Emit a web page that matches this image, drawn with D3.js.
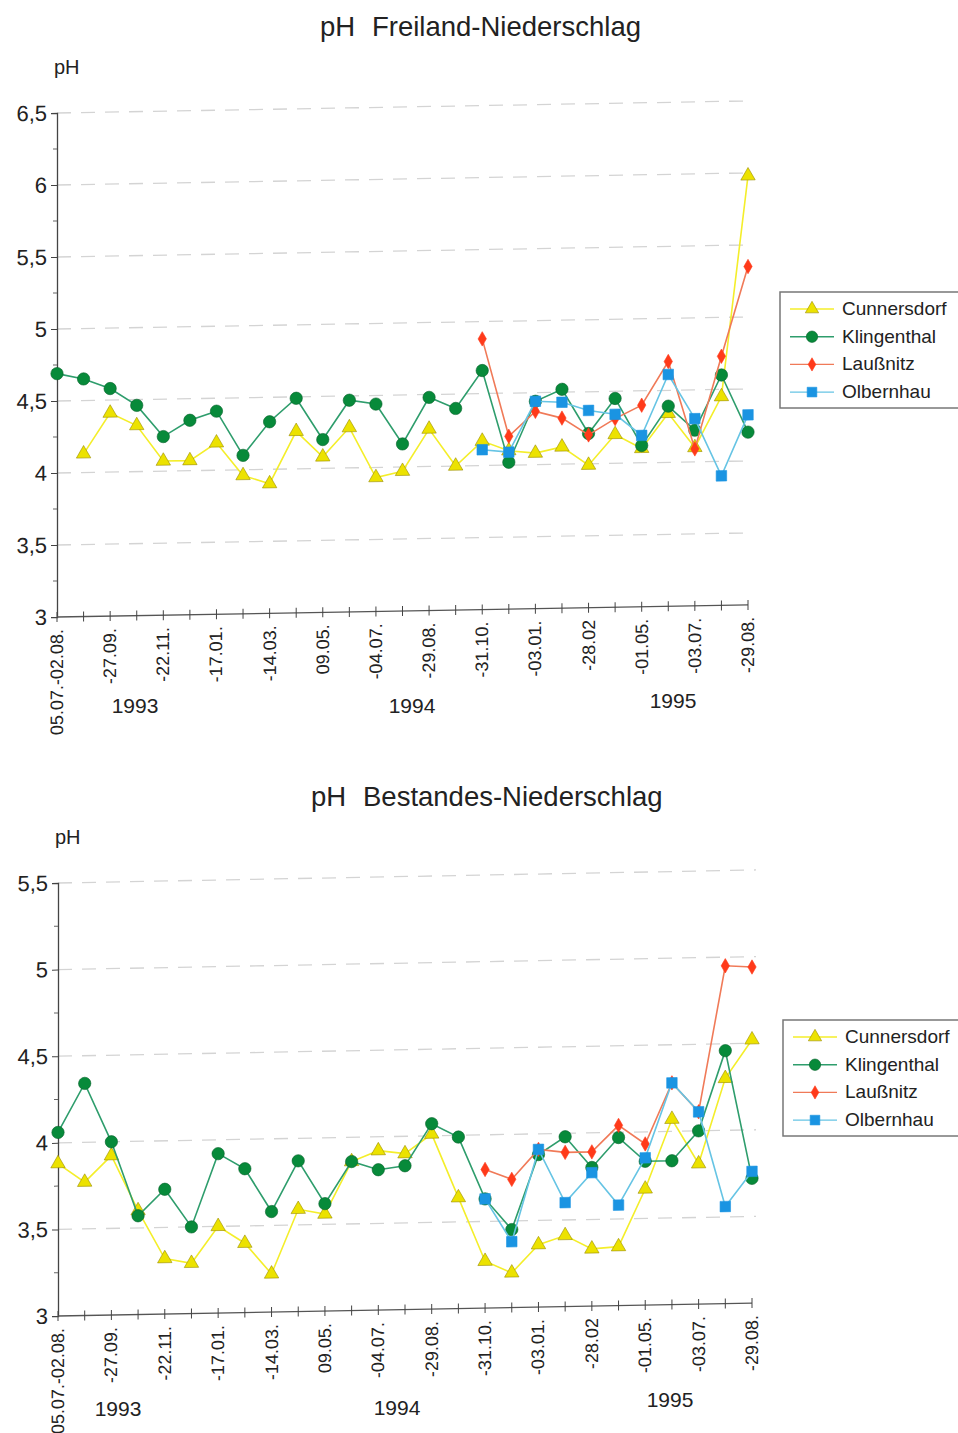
<!DOCTYPE html>
<html>
<head>
<meta charset="utf-8">
<script src="https://cdn.jsdelivr.net/npm/d3@7"></script>
<style>
  body { margin: 0; background: #fff; }
  svg { font-family: "Liberation Sans", Arial, sans-serif; }
</style>
</head>
<body>
<svg id="chart" width="958" height="1433"></svg>
<script>
// ---- data ----
var dateLabels = ["05.07.-02.08.", "", "-27.09.", "", "-22.11.", "", "-17.01.", "", "-14.03.", "",
                  "09.05.", "", "-04.07.", "", "-29.08.", "", "-31.10.", "", "-03.01.", "",
                  "-28.02", "", "-01.05.", "", "-03.07.", "", "-29.08."];
var years = ["1993", "1994", "1995"];
var stations = ["Cunnersdorf", "Klingenthal", "Laußnitz", "Olbernhau"];

var N = null;
var freiCunnersdorf = [N, 4.13, 4.41, 4.32, 4.07, 4.07, 4.19, 3.96, 3.90, 4.26, 4.08, 4.28, 3.93, 3.97,
                       4.26, 4.00, 4.17, 4.10, 4.08, 4.12, 3.99, 4.20, 4.10, 4.34, 4.10, 4.45, 5.98];
var freiKlingenthal = [4.69, 4.65, 4.58, 4.46, 4.24, 4.35, 4.41, 4.10, 4.33, 4.49, 4.20, 4.47, 4.44, 4.16,
                       4.48, 4.40, 4.66, 4.02, 4.44, 4.52, 4.21, 4.45, 4.12, 4.39, 4.22, 4.60, 4.20];
var freiLaussnitz   = [N, N, N, N, N, N, N, N, N, N, N, N, N, N, N, N,
                       4.88, 4.20, 4.37, 4.32, 4.20, 4.31, 4.40, 4.70, 4.09, 4.73, 5.35];
var freiOlbernhau   = [N, N, N, N, N, N, N, N, N, N, N, N, N, N, N, N,
                       4.11, 4.09, 4.44, 4.43, 4.37, 4.34, 4.19, 4.61, 4.30, 3.90, 4.32];

var bestCunnersdorf = [3.88, 3.77, 3.92, 3.60, 3.32, 3.29, 3.50, 3.40, 3.22, 3.59, 3.56, 3.86, 3.92, 3.90,
                       4.01, 3.64, 3.27, 3.20, 3.36, 3.41, 3.33, 3.34, 3.67, 4.07, 3.81, 4.30, 4.52];
var bestKlingenthal = [4.06, 4.34, 4.00, 3.57, 3.72, 3.50, 3.92, 3.83, 3.58, 3.87, 3.62, 3.86, 3.81, 3.83,
                       4.07, 3.99, 3.63, 3.45, 3.88, 3.98, 3.80, 3.97, 3.83, 3.83, 4.00, 4.46, 3.72];
var bestLaussnitz   = [N, N, N, N, N, N, N, N, N, N, N, N, N, N, N, N,
                       3.80, 3.74, 3.91, 3.89, 3.89, 4.04, 3.93, 4.28, 4.11, 4.95, 4.94];
var bestOlbernhau   = [N, N, N, N, N, N, N, N, N, N, N, N, N, N, N, N,
                       3.63, 3.38, 3.91, 3.60, 3.77, 3.58, 3.85, 4.28, 4.11, 3.56, 3.76];

// ---- styles per station ----
var styles = {
  "Cunnersdorf": {line: "#f4ee2a", fill: "#ece200", stroke: "#9a8c00", shape: d3.symbolTriangle, size: 90},
  "Klingenthal": {line: "#2e9d6c", fill: "#078a3a", stroke: "#05622a", shape: d3.symbolCircle, size: 120},
  "Laußnitz":    {line: "#f07a58", fill: "#ff3a1a", stroke: "#ff3a1a", shape: d3.symbolDiamond, size: 60},
  "Olbernhau":   {line: "#66c4e4", fill: "#1a94e2", stroke: "#1a94e2", shape: d3.symbolSquare, size: 110}
};

var svg = d3.select("#chart");

function drawPanel(cfg) {
	// one chart block: title, skewed plot (the scan is slightly sheared), legend

	svg.append("text")
		.attr("x", cfg.titleX).attr("y", cfg.titleY)
		.attr("font-size", 27.5).attr("fill", "#222")
		.text("pH");
	svg.append("text")
		.attr("x", cfg.titleX2).attr("y", cfg.titleY)
		.attr("font-size", 27.5).attr("fill", "#222")
		.text(cfg.title);

	svg.append("text")
		.attr("x", cfg.left - 3).attr("y", cfg.top - 39)
		.attr("font-size", 20).attr("fill", "#222")
		.text("pH");

	var w = cfg.right - cfg.left;
	var x = d3.scalePoint().domain(d3.range(dateLabels.length)).range([0, w]);
	var y = d3.scaleLinear().domain(cfg.yDomain).range([cfg.bottom, cfg.top]);

	var g = svg.append("g")
		.attr("transform", "translate(" + cfg.left + ",0) skewY(" + cfg.skew + ")");

	var major = d3.range(cfg.yDomain[0], cfg.yDomain[1] + 0.01, 0.5);
	var minor = d3.range(cfg.yDomain[0] + 0.25, cfg.yDomain[1], 0.5);

	// dashed grid
	g.selectAll(".grid").data(major.slice(1)).enter().append("line")
		.attr("x1", 0).attr("x2", w + 4)
		.attr("y1", function(d) {return y(d)}).attr("y2", function(d) {return y(d)})
		.attr("stroke", "#d4d4d4").attr("stroke-width", 1.3)
		.attr("stroke-dasharray", "14,10");

	// y axis
	var yAxis = d3.axisLeft(y).tickValues(major).tickSize(6).tickPadding(4)
		.tickFormat(function(d) {return String(d).replace(".", ",")});
	var ya = g.append("g").call(yAxis);
	ya.select(".domain").attr("stroke", "#444").attr("stroke-width", 1.3);
	ya.selectAll(".tick line").attr("stroke", "#444");
	ya.selectAll(".tick text").attr("font-size", 22).attr("fill", "#222")
		.attr("font-family", "Liberation Sans, Arial, sans-serif");
	g.selectAll(".minor").data(minor).enter().append("line")
		.attr("x1", -4).attr("x2", 0)
		.attr("y1", function(d) {return y(d)}).attr("y2", function(d) {return y(d)})
		.attr("stroke", "#666");

	// x axis with crossing ticks
	var xa = g.append("g").attr("transform", "translate(0," + cfg.bottom + ")");
	xa.append("line").attr("x1", 0).attr("x2", w).attr("stroke", "#555").attr("stroke-width", 1.3);
	xa.selectAll(".xt").data(d3.range(dateLabels.length)).enter().append("line")
		.attr("x1", function(d) {return x(d)}).attr("x2", function(d) {return x(d)})
		.attr("y1", -5).attr("y2", 5)
		.attr("stroke", "#444");
	xa.selectAll(".xl").data(dateLabels).enter().append("text")
		.attr("transform", function(d, i) {return "translate(" + (x(i) + 6) + ",12) rotate(-90)"})
		.attr("text-anchor", "end")
		.attr("font-size", 18).attr("fill", "#222")
		.text(function(d) {return d});

	// year labels sit below the sheared area, not on it
	svg.selectAll(".yr" + cfg.id).data(years).enter().append("text")
		.attr("x", function(d, i) {return cfg.yearX[i]})
		.attr("y", function(d, i) {return cfg.yearY[i]})
		.attr("text-anchor", "middle")
		.attr("font-size", 21).attr("fill", "#222")
		.text(function(d) {return d});

	// series
	cfg.data.forEach(function(vals, k) {
		var st = styles[stations[k]];
		var pts = vals.map(function(v, i) {return {i: i, v: v}});
		var line = d3.line()
			.defined(function(d) {return d.v != null})
			.x(function(d) {return x(d.i)})
			.y(function(d) {return y(d.v)});
		g.append("path").datum(pts)
			.attr("d", line)
			.attr("fill", "none").attr("stroke", st.line).attr("stroke-width", 1.6);
		g.selectAll(".m" + k).data(pts.filter(function(d) {return d.v != null})).enter()
			.append("path")
			.attr("transform", function(d) {return "translate(" + x(d.i) + "," + y(d.v) + ")"})
			.attr("d", d3.symbol().type(st.shape).size(st.size))
			.attr("fill", st.fill).attr("stroke", st.stroke).attr("stroke-width", 0.6);
	});

	// legend
	var lg = svg.append("g").attr("transform", "translate(" + cfg.legX + "," + cfg.legY + ")");
	lg.append("rect")
		.attr("x", 0).attr("y", 0).attr("width", 200).attr("height", 116)
		.attr("fill", "#fff").attr("stroke", "#777").attr("stroke-width", 1.5);
	stations.forEach(function(s, k) {
		var st = styles[s];
		var yy = 17 + k * 27.7;
		lg.append("line").attr("x1", 10).attr("x2", 54).attr("y1", yy).attr("y2", yy)
			.attr("stroke", st.line).attr("stroke-width", 1.4);
		lg.append("path")
			.attr("transform", "translate(32," + yy + ")")
			.attr("d", d3.symbol().type(st.shape).size(st.size * 0.85))
			.attr("fill", st.fill).attr("stroke", st.stroke).attr("stroke-width", 0.6);
		lg.append("text").attr("x", 62).attr("y", yy + 6)
			.attr("font-size", 19).attr("fill", "#222")
			.text(s);
	});
}

drawPanel({
	id: "a",
	title: "Freiland-Niederschlag", titleX: 320, titleX2: 372, titleY: 36,
	left: 57, right: 748, top: 113, bottom: 617,
	yDomain: [3, 6.5], skew: -1.0,
	yearX: [135, 412, 673], yearY: [713, 713, 708],
	legX: 780, legY: 292,
	data: [freiCunnersdorf, freiKlingenthal, freiLaussnitz, freiOlbernhau]
});

drawPanel({
	id: "b",
	title: "Bestandes-Niederschlag", titleX: 311, titleX2: 363, titleY: 806,
	left: 58, right: 752, top: 883, bottom: 1316,
	yDomain: [3, 5.5], skew: -1.07,
	yearX: [118, 397, 670], yearY: [1416, 1415, 1407],
	legX: 783, legY: 1020,
	data: [bestCunnersdorf, bestKlingenthal, bestLaussnitz, bestOlbernhau]
});
</script>
</body>
</html>
